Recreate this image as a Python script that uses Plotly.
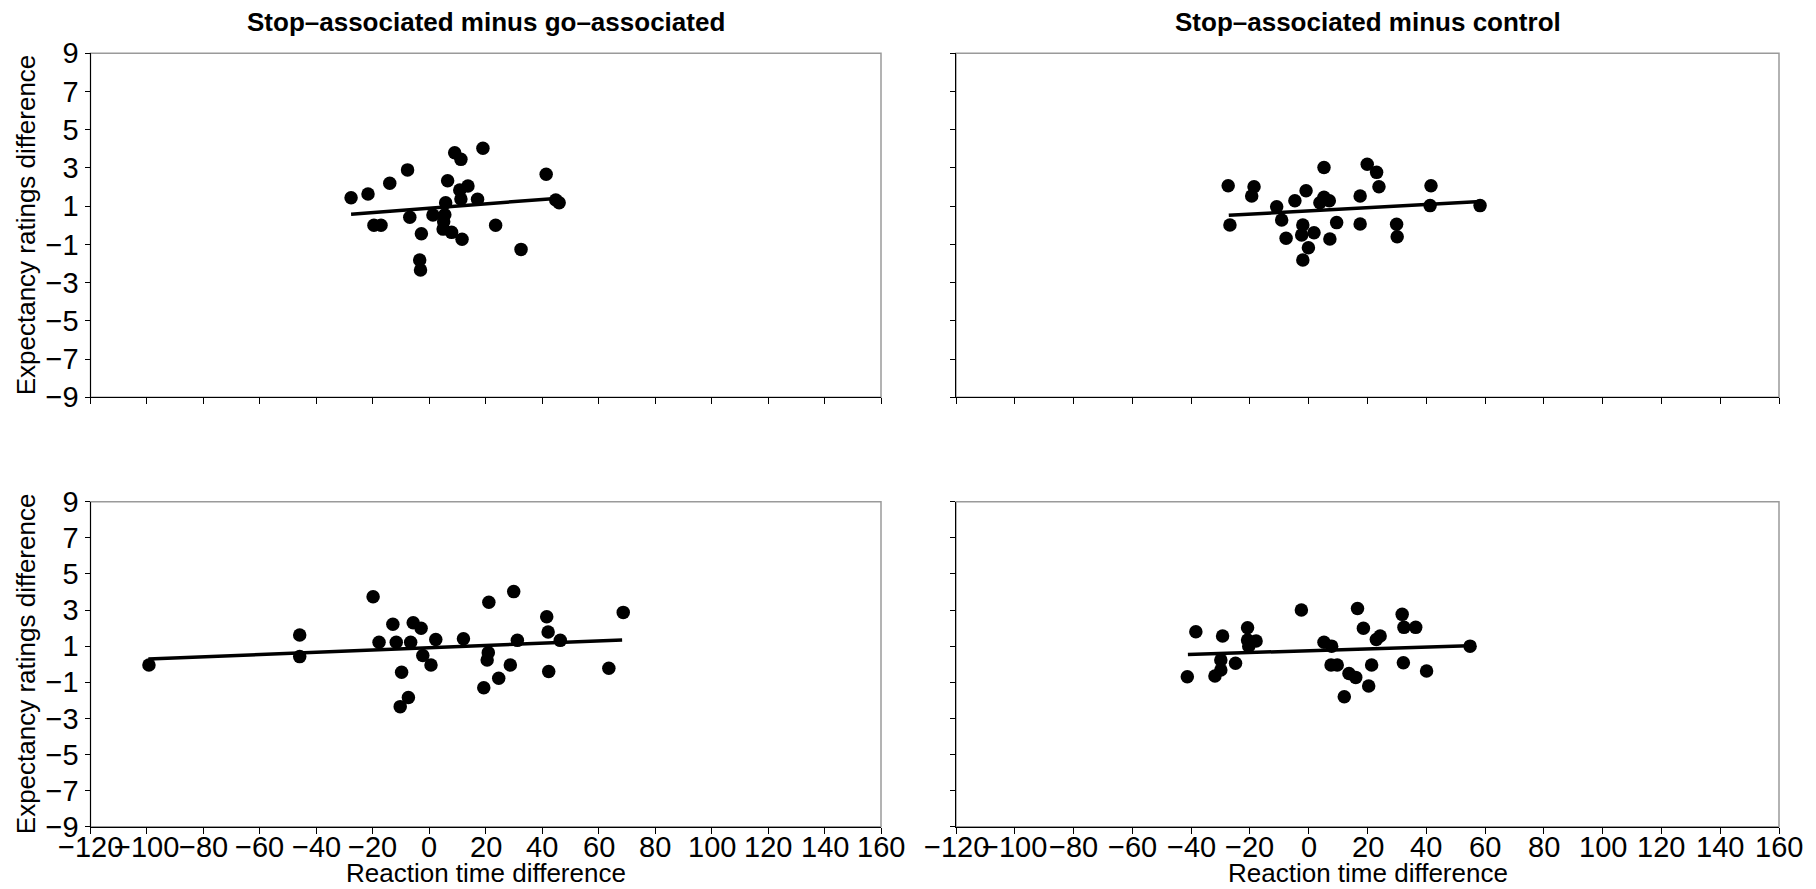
import plotly.graph_objects as go

# ---------------- data ----------------
titles = ["Stop\u2013associated minus go\u2013associated", "Stop\u2013associated minus control"]
x_title = "Reaction time difference"
y_title = "Expectancy ratings difference"

x_ticks = list(range(-120, 161, 20))
y_ticks = list(range(-9, 10, 2))

# top-left: stop-associated minus go-associated (block 1)
p1_x = [-27.7, -21.7, -14.0, -7.7, -19.6, -17.1, -6.9, -2.8, -3.4, -3.1, 1.3, 5.8, 5.5, 5.1, 4.9,
        7.9, 11.6, 6.5, 9.0, 11.2, 10.8, 13.7, 11.2, 17.1, 19.0, 23.5, 32.5, 41.4, 44.8, 46.0]
p1_y = [1.44, 1.64, 2.2, 2.9, 0.0, 0.0, 0.42, -0.44, -1.82, -2.34, 0.54, 1.18, 0.55, 0.18, -0.2,
        -0.37, -0.73, 2.33, 3.8, 3.45, 1.85, 2.06, 1.38, 1.36, 4.03, 0.0, -1.26, 2.67, 1.32, 1.18]
f1_x = [-27.7, 46.0]
f1_y = [0.58, 1.42]

# top-right: stop-associated minus control (block 1)
p2_x = [-27.4, -26.8, -18.6, -19.4, -10.9, -9.2, -4.7, -0.9, -7.7, -2.0, -2.4, 1.8, -0.1, -2.0,
        5.2, 5.2, 3.8, 7.0, 9.5, 7.2, 17.5, 17.5, 19.9, 23.1, 23.9, 29.9, 30.1, 41.6, 41.3, 58.3]
p2_y = [2.07, 0.02, 2.02, 1.53, 0.97, 0.28, 1.29, 1.81, -0.68, 0.02, -0.51, -0.39, -1.17, -1.82,
        3.02, 1.47, 1.18, 1.29, 0.14, -0.72, 1.53, 0.07, 3.19, 2.77, 2.02, 0.05, -0.6, 2.07, 1.03, 1.03]
f2_x = [-27.2, 58.5]
f2_y = [0.52, 1.24]

# bottom-left: stop-associated minus go-associated (block 2)
p3_x = [-99.3, -45.9, -45.9, -19.9, -17.8, -12.9, -11.7, -5.7, -2.9, -6.6, -2.3, 0.6, 2.3, -9.8,
        -7.4, -10.3, 12.1, 21.1, 20.9, 20.5, 19.3, 24.6, 28.7, 29.9, 31.2, 41.6, 42.1, 42.3, 46.4,
        63.6, 68.7]
p3_y = [-0.05, 1.62, 0.42, 3.74, 1.21, 2.21, 1.21, 2.3, 1.99, 1.21, 0.48, -0.05, 1.37, -0.45,
        -1.85, -2.35, 1.41, 3.43, 0.64, 0.23, -1.3, -0.78, -0.05, 4.02, 1.32, 2.63, 1.78, -0.41, 1.32,
        -0.23, 2.87]
f3_x = [-99.5, 68.3]
f3_y = [0.29, 1.34]

# bottom-right: stop-associated minus control (block 2)
p4_x = [-41.3, -38.4, -29.3, -29.9, -29.9, -31.9, -24.9, -20.8, -20.8, -20.4, -17.9, -2.5, 5.2,
        7.8, 7.6, 9.7, 12.1, 13.7, 16.0, 16.6, 18.6, 21.4, 20.4, 23.0, 24.3, 31.8, 32.4, 36.4, 32.2,
        40.1, 54.9]
p4_y = [-0.69, 1.8, 1.56, 0.23, -0.32, -0.65, 0.05, 2.02, 1.34, 1.0, 1.28, 3.0, 1.21,
        1.0, -0.05, -0.05, -1.8, -0.51, -0.73, 3.09, 1.99, -0.05, -1.21, 1.37, 1.56, 2.76, 2.04, 2.04, 0.08,
        -0.38, 1.0]
f4_x = [-41.1, 54.5]
f4_y = [0.54, 1.02]

# ---------------- figure ----------------
W, H = 1816, 889
FONT = "Liberation Sans, Arial, Helvetica, sans-serif"
NARROW = "Liberation Sans Narrow, Arial Narrow, Liberation Sans, Arial, sans-serif"

panels = [
    (p1_x, p1_y, f1_x, f1_y),
    (p2_x, p2_y, f2_x, f2_y),
    (p3_x, p3_y, f3_x, f3_y),
    (p4_x, p4_y, f4_x, f4_y),
]

def px_x(v):
    return v / W

def px_y(v):
    return (H - v) / H

def fmt(t):
    return ("\u2212" + str(-t)) if t < 0 else str(t)

x_domains = [[px_x(90.5), px_x(881)], [px_x(956), px_x(1779)]]
y_domains = [[px_y(397.3), px_y(53.3)], [px_y(826.7), px_y(501.7)]]

fig = go.Figure()
layout = dict(
    width=W, height=H, margin=dict(l=0, r=0, t=0, b=0, pad=0), autosize=False,
    paper_bgcolor="white", plot_bgcolor="white", showlegend=False,
    font=dict(family=FONT, color="black"),
)
shapes = []
annotations = []
for i, (px, py, fx, fy) in enumerate(panels):
    row, col = divmod(i, 2)
    n = i + 1
    xa = "x" if n == 1 else f"x{n}"
    ya = "y" if n == 1 else f"y{n}"
    fig.add_trace(go.Scatter(x=px, y=py, mode="markers", xaxis=xa, yaxis=ya,
                             marker=dict(color="black", size=13.5, line=dict(width=0))))
    fig.add_trace(go.Scatter(x=fx, y=fy, mode="lines", xaxis=xa, yaxis=ya,
                             line=dict(color="black", width=3.5)))
    xkey = "xaxis" if n == 1 else f"xaxis{n}"
    ykey = "yaxis" if n == 1 else f"yaxis{n}"
    layout[xkey] = dict(
        domain=x_domains[col], anchor=ya, range=[-120, 160], automargin=False,
        tickmode="array", tickvals=x_ticks, showticklabels=False,
        ticks="outside", ticklen=6, tickwidth=1, tickcolor="black",
        showline=True, linecolor="black", linewidth=1, showgrid=False, zeroline=False,
        fixedrange=True,
    )
    layout[ykey] = dict(
        domain=y_domains[row], anchor=xa, range=[-9, 9], automargin=False,
        tickmode="array", tickvals=y_ticks, ticktext=[fmt(t) for t in y_ticks],
        showticklabels=(col == 0), ticks="outside", ticklen=5, tickwidth=1, tickcolor="black",
        showline=True, linecolor="black", linewidth=1, showgrid=False, zeroline=False,
        tickfont=dict(family=NARROW, size=29, color="black"), fixedrange=True,
    )
    shapes.append(dict(type="rect", xref=f"{xa} domain", yref=f"{ya} domain", x0=0, x1=1, y0=0, y1=1,
                       line=dict(color="#9a9a9a", width=1.5), layer="below"))
    # x tick labels on the bottom row (placed through the x axis scale)
    if row == 1:
        for t in x_ticks:
            annotations.append(dict(text=fmt(t), x=t, xref=xa, y=px_y(847), yref="paper",
                                    xanchor="center", yanchor="middle", showarrow=False, borderpad=0,
                                    font=dict(family=NARROW, size=29, color="black")))

for col, t in enumerate(titles):
    cx = (x_domains[col][0] + x_domains[col][1]) / 2
    annotations.append(dict(text=f"<b>{t}</b>", x=cx, y=px_y(22), xref="paper", yref="paper",
                            xanchor="center", yanchor="middle", showarrow=False,
                            font=dict(family=FONT, size=26, color="black")))
    annotations.append(dict(text=x_title, x=cx, y=px_y(873), xref="paper", yref="paper",
                            xanchor="center", yanchor="middle", showarrow=False, borderpad=0,
                            font=dict(family=FONT, size=26, color="black")))
for row in range(2):
    cy = (y_domains[row][0] + y_domains[row][1]) / 2
    annotations.append(dict(text=y_title, x=px_x(26), y=cy, xref="paper", yref="paper",
                            xanchor="center", yanchor="middle", textangle=-90, showarrow=False,
                            font=dict(family=FONT, size=26, color="black")))

layout["shapes"] = shapes
layout["annotations"] = annotations
fig.update_layout(**layout)

fig.write_html("out.html", config={"displayModeBar": False},
               post_script="document.body.style.margin='0';document.body.style.overflow='hidden';")
